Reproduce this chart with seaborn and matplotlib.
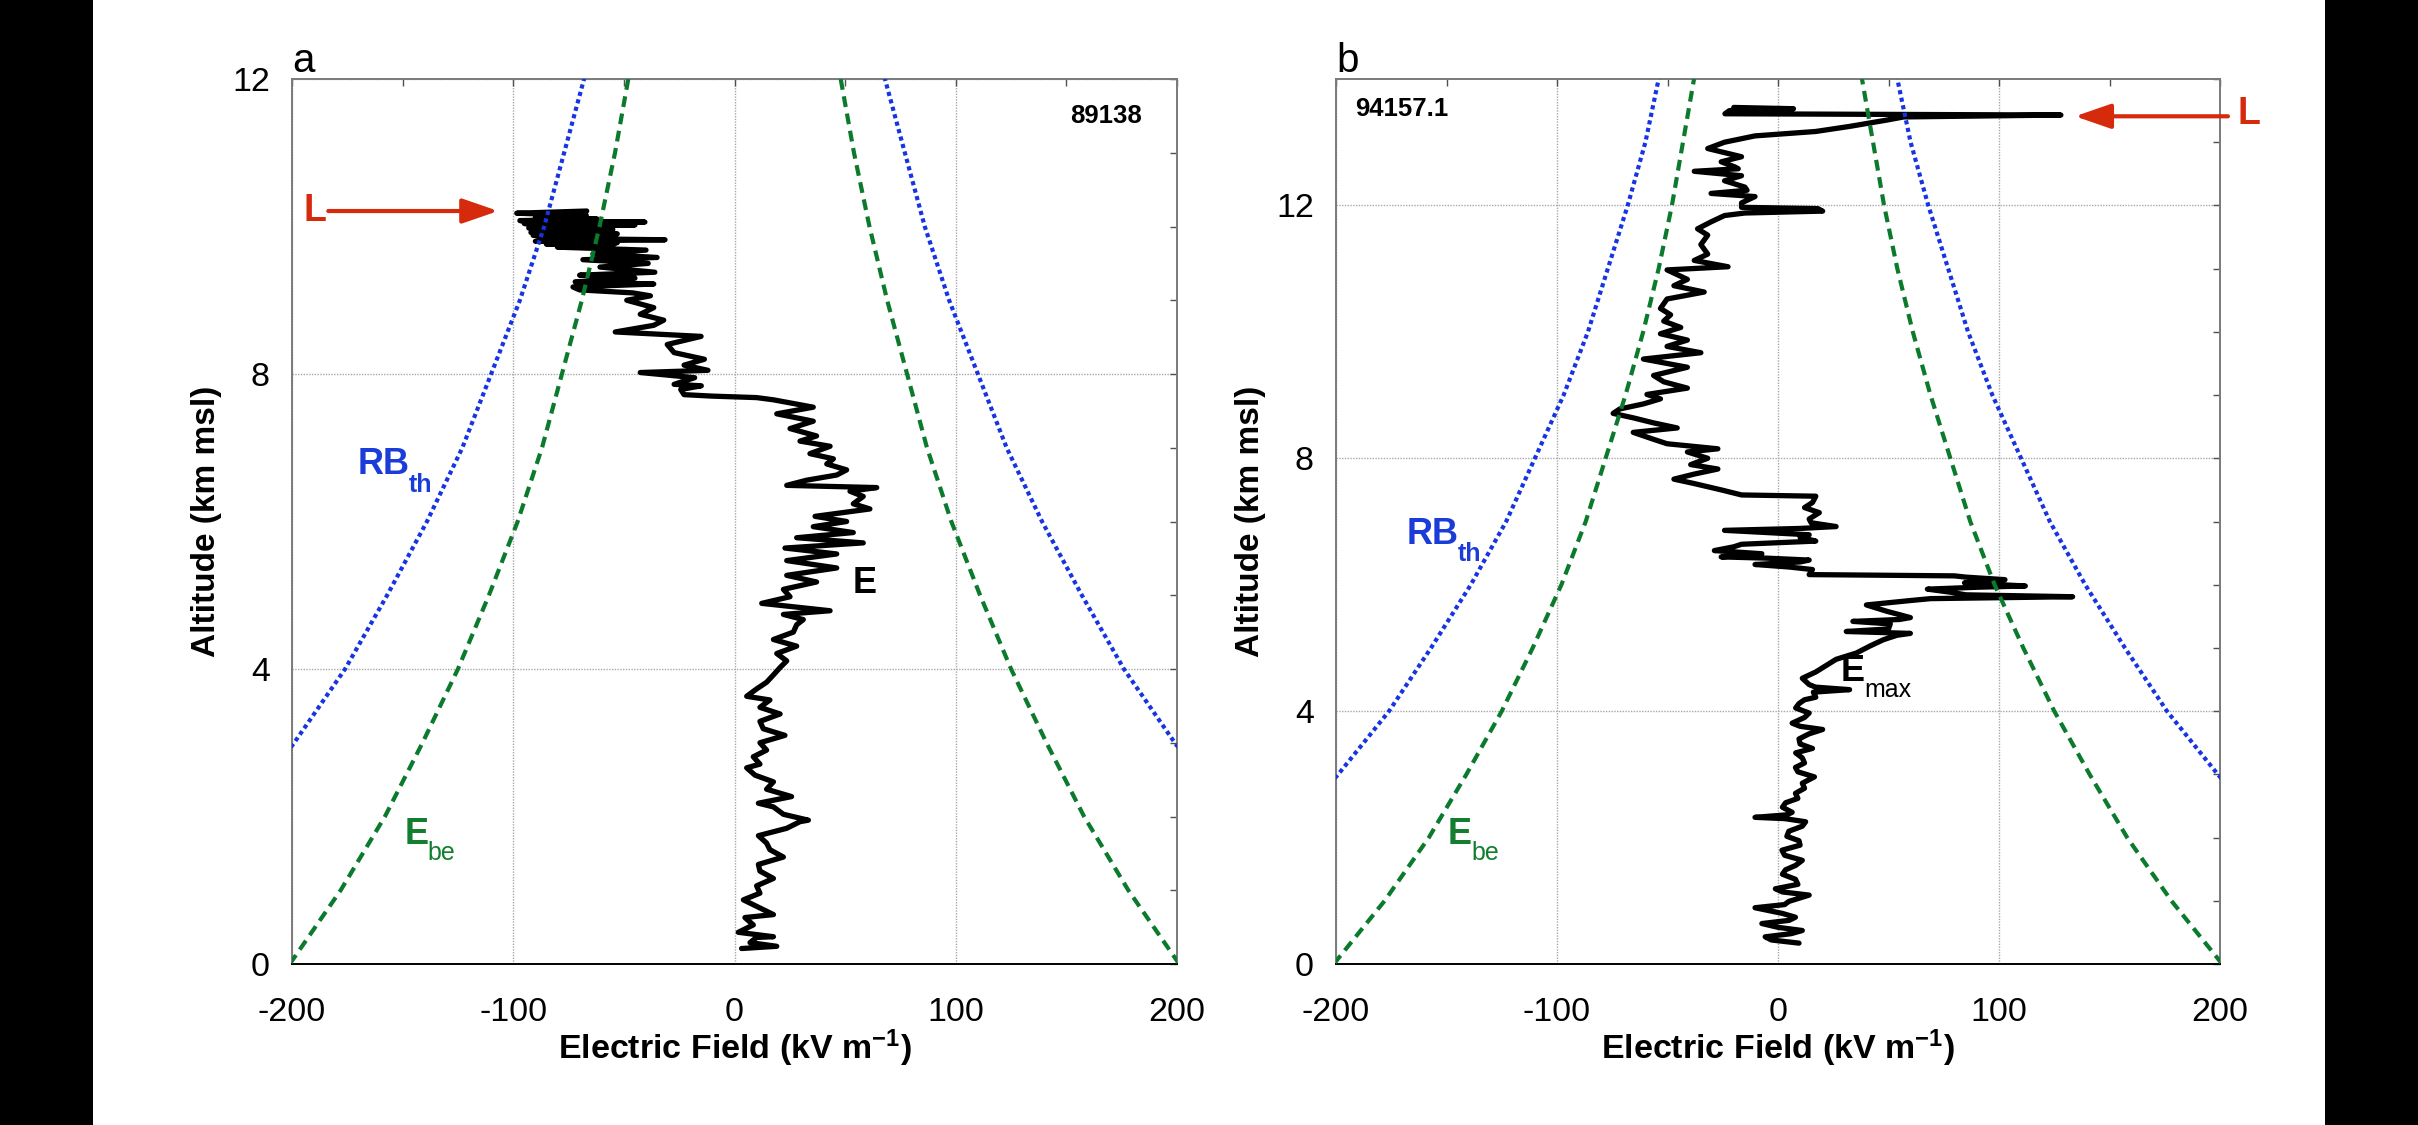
import matplotlib
matplotlib.use("Agg")
import matplotlib.pyplot as plt
import seaborn as sns
import pandas as pd
from matplotlib.ticker import MultipleLocator, FixedLocator, FixedFormatter
from matplotlib.patches import Rectangle

# ---------------- data ----------------
curve_alt_km = [0, 1, 2, 3, 4, 5, 6, 7, 8, 9, 10, 11, 12, 13, 14]
rb_th_kvm = [284, 252, 224, 199, 176, 157, 139, 123, 110, 97, 86, 77, 68, 60, 54]
e_be_kvm = [201, 178, 158, 141, 125, 111, 98, 87, 78, 69, 61, 54, 48, 43, 38]

a_alt_km = [0.21, 0.24, 0.29, 0.36, 0.37, 0.43, 0.53, 0.63, 0.67, 0.77, 0.87, 0.96, 1.06, 1.16,
            1.26, 1.35, 1.45, 1.55, 1.64, 1.74, 1.84, 1.93, 1.95, 2.03, 2.13, 2.18, 2.27, 2.37,
            2.47, 2.56, 2.66, 2.71, 2.81, 2.90, 3.00, 3.10, 3.19, 3.29, 3.39, 3.48, 3.58, 3.63,
            3.73, 3.82, 3.92, 4.02, 4.11, 4.21, 4.31, 4.40, 4.50, 4.60, 4.67, 4.74, 4.79, 4.89,
            4.98, 5.08, 5.18, 5.27, 5.37, 5.47, 5.56, 5.64, 5.71, 5.78, 5.85, 5.93, 6.00, 6.07,
            6.17, 6.24, 6.34, 6.41, 6.46, 6.49, 6.56, 6.63, 6.70, 6.78, 6.85, 6.92, 7.02, 7.09,
            7.16, 7.26, 7.36, 7.46, 7.55, 7.65, 7.68, 7.70, 7.72, 7.79, 7.84, 7.86, 7.95, 8.02,
            8.05, 8.12, 8.20, 8.29, 8.40, 8.51, 8.57, 8.66, 8.73, 8.81, 8.90, 9.00, 9.06, 9.10,
            9.14, 9.18, 9.22, 9.25, 9.30, 9.34, 9.38, 9.45, 9.50, 9.55, 9.58, 9.63, 9.68, 9.72,
            9.74, 9.76, 9.78, 9.80, 9.82, 9.84, 9.86, 9.88, 9.90, 9.92, 9.93, 9.95, 9.96, 9.98,
            9.99, 10.01, 10.02, 10.04, 10.06, 10.08, 10.10, 10.12, 10.15, 10.18, 10.21]
a_field_kvm = [3.2, 19.1, 7.0, 10.0, 17.6, 1.7, 8.5, 4.7, 17.6, 10.8, 4.0, 11.5, 10.0, 17.6,
               11.5, 10.8, 22.1, 16.0, 14.5, 10.8, 23.6, 29.6, 33.4, 22.1, 17.6, 10.8, 25.8, 14.5,
               17.6, 9.3, 5.5, 11.5, 8.5, 14.5, 11.5, 22.8, 13.0, 11.5, 20.6, 11.5, 16.0, 5.5,
               10.0, 14.5, 17.6, 20.6, 23.6, 19.1, 28.1, 17.6, 26.6, 28.1, 31.1, 22.1, 43.2, 12.3,
               25.1, 22.1, 37.1, 23.6, 46.2, 23.6, 46.2, 22.8, 58.2, 28.1, 53.7, 35.6, 50.7, 36.4,
               61.2, 53.7, 58.2, 52.2, 64.3, 23.6, 32.6, 46.2, 50.7, 41.7, 44.7, 34.1, 43.2, 29.6,
               37.1, 25.1, 35.6, 19.1, 35.6, 17.6, 10.0, -10.0, -22.8, -24.3, -15.0, -27.3, -18.0, -42.6,
               -12.0, -22.8, -13.6, -27.3, -30.4, -15.1, -53.9, -36.5, -32.0, -42.6, -36.5, -48.7, -38.0, -46.0,
               -70.0, -73.0, -36.5, -72.0, -45.0, -70.0, -36.0, -60.8, -39.0, -68.5, -35.0, -64.0, -40.0, -80.0,
               -55.0, -85.0, -53.0, -90.0, -31.4, -88.0, -60.0, -91.0, -53.0, -92.0, -58.0, -89.0, -55.0, -93.0,
               -60.0, -88.0, -45.0, -95.0, -40.5, -97.0, -62.0, -90.0, -67.0, -98.4, -66.8]

b_alt_km = [0.33, 0.38, 0.43, 0.48, 0.53, 0.58, 0.64, 0.69, 0.74, 0.80, 0.89, 0.94, 0.99, 1.09,
            1.14, 1.19, 1.26, 1.34, 1.42, 1.49, 1.56, 1.64, 1.72, 1.80, 1.88, 1.95, 2.02, 2.10,
            2.18, 2.25, 2.30, 2.32, 2.36, 2.40, 2.48, 2.55, 2.62, 2.70, 2.78, 2.86, 2.96, 3.04,
            3.11, 3.18, 3.26, 3.34, 3.41, 3.48, 3.56, 3.64, 3.71, 3.76, 3.81, 3.90, 3.97, 4.05,
            4.12, 4.18, 4.22, 4.30, 4.34, 4.38, 4.42, 4.52, 4.62, 4.72, 4.82, 4.92, 5.03, 5.13,
            5.20, 5.23, 5.26, 5.30, 5.38, 5.42, 5.45, 5.48, 5.58, 5.68, 5.75, 5.78, 5.81, 5.84,
            5.88, 5.93, 5.96, 5.98, 6.03, 6.08, 6.12, 6.14, 6.16, 6.24, 6.28, 6.32, 6.36, 6.39,
            6.42, 6.44, 6.49, 6.54, 6.60, 6.64, 6.69, 6.75, 6.79, 6.86, 6.89, 6.92, 6.98, 7.04,
            7.14, 7.22, 7.30, 7.40, 7.42, 7.50, 7.60, 7.67, 7.75, 7.83, 7.90, 8.00, 8.10, 8.15,
            8.23, 8.30, 8.41, 8.48, 8.56, 8.64, 8.71, 8.78, 8.86, 8.94, 9.01, 9.11, 9.21, 9.31,
            9.44, 9.57, 9.67, 9.77, 9.87, 9.97, 10.07, 10.17, 10.27, 10.37, 10.52, 10.63, 10.73,
            10.83, 10.98, 11.03, 11.13, 11.23, 11.38, 11.53, 11.63, 11.74, 11.84, 11.88, 11.91,
            11.95, 11.97, 12.04, 12.14, 12.19, 12.24, 12.29, 12.39, 12.47, 12.54, 12.58, 12.61,
            12.69, 12.77, 12.90, 13.00, 13.10, 13.17, 13.25, 13.35, 13.40, 13.43, 13.45, 13.50,
            13.53, 13.55]
b_field_kvm = [9.5, -3.0, -5.8, 6.0, 11.0, 0.0, -7.3, 5.0, 7.9, 2.0, -10.4, 3.0, 4.9, 14.1,
               2.0, -1.2, 9.0, 7.9, 2.0, 3.4, 8.0, 11.0, 3.0, 1.8, 10.0, 9.5, 4.0, 4.9,
               11.0, 12.5, 3.0, -10.4, 4.0, 6.4, 2.0, 3.4, 9.0, 7.9, 12.0, 11.0, 16.5, 9.0,
               7.9, 12.0, 11.0, 8.0, 15.6, 10.0, 9.5, 14.0, 20.2, 10.0, 6.4, 12.0, 14.1, 8.0,
               9.5, 12.0, 17.1, 16.0, 32.4, 17.0, 14.1, 11.0, 17.1, 21.7, 26.3, 35.5, 41.6, 47.7,
               53.8, 59.9, 30.9, 50.0, 50.8, 33.9, 55.0, 59.9, 49.2, 40.0, 60.0, 69.1, 133.3, 85.0,
               78.3, 67.6, 90.0, 111.9, 84.4, 102.7, 85.0, 79.8, 14.1, 15.6, 5.0, -10.4, 10.0, 14.1,
               -5.0, -25.7, -7.3, -28.8, -20.0, -16.5, 17.1, 10.0, 14.1, -24.2, 10.0, 26.3, 15.0, 14.1,
               18.7, 12.0, 15.6, 17.1, -16.5, -25.7, -37.9, -47.1, -37.9, -27.2, -39.5, -31.8, -41.0, -27.2,
               -50.2, -56.3, -65.5, -45.6, -56.3, -65.5, -74.6, -71.6, -60.9, -53.2, -59.3, -41.0, -51.7, -56.3,
               -41.0, -60.9, -34.9, -50.2, -41.0, -53.2, -44.0, -51.7, -48.6, -53.2, -50.2, -33.4, -47.1,
               -41.0, -50.2, -22.6, -37.9, -31.8, -34.9, -31.8, -36.4, -30.3, -24.2, -15.0, 20.2,
               18.0, -16.5, -16.5, -10.4, -30.3, -14.0, -15.0, -24.2, -16.5, -37.9, -18.0, -19.6,
               -25.7, -16.5, -31.8, -24.2, -10.4, 17.1, 32.4, 49.2, 56.9, 128.0, -24.0, -22.0,
               7.0, -20.0]

x_ticks = [-200, -100, 0, 100, 200]
x_tick_labels = ["-200", "-100", "0", "100", "200"]
y_ticks = [0, 4, 8, 12]
y_tick_labels = ["0", "4", "8", "12"]

panel_letters = ["a", "b"]
flight_ids = ["89138", "94157.1"]
y_max = [12, 14]

# ---------------- style ----------------
sns.set_theme(style="white")
plt.rcParams["font.family"] = ["Liberation Sans", "DejaVu Sans"]
plt.rcParams["mathtext.default"] = "regular"
plt.rcParams["axes.unicode_minus"] = False

BLUE = "#1634E4"
GREEN = "#0B7A2C"
RED = "#D62A0C"
BLUE_TXT = "#1A3CD8"
GREEN_TXT = "#137E30"

W, H = 2418, 1125
fig = plt.figure(figsize=(W / 100, H / 100), dpi=100)
fig.patch.set_facecolor("white")
fig.add_artist(Rectangle((0, 0), 93 / W, 1, transform=fig.transFigure,
                         facecolor="black", edgecolor="none", zorder=0))
fig.add_artist(Rectangle((2325 / W, 0), 1, 1, transform=fig.transFigure,
                         facecolor="black", edgecolor="none", zorder=0))


def rect(left, top, w, h):
    return [left / W, 1 - (top + h) / H, w / W, h / H]


ax_a = fig.add_axes(rect(292, 79, 885, 885))
ax_b = fig.add_axes(rect(1336, 79, 884, 885))

curves = pd.DataFrame({"alt": curve_alt_km, "rb": rb_th_kvm, "be": e_be_kvm})
prof_a = pd.DataFrame({"alt": a_alt_km, "E": a_field_kvm})
prof_b = pd.DataFrame({"alt": b_alt_km, "E": b_field_kvm})


def draw_panel(ax, prof, ymax, letter):
    ax.set_facecolor("white")
    sns.lineplot(data=prof, x="E", y="alt", sort=False, estimator=None, ax=ax,
                 color="black", lw=3.8, zorder=3)
    for sign in (-1, 1):
        sns.lineplot(x=[sign * v for v in curves["rb"]], y=curves["alt"], sort=False,
                     estimator=None, ax=ax, color=BLUE, lw=3.0,
                     linestyle=(0, (1.0, 0.85)), zorder=4)
        sns.lineplot(x=[sign * v for v in curves["be"]], y=curves["alt"], sort=False,
                     estimator=None, ax=ax, color=GREEN, lw=3.0,
                     linestyle=(0, (2.6, 1.6)), zorder=4)
    ax.set_xlim(-200, 200)
    ax.set_ylim(0, ymax)
    ax.xaxis.set_major_locator(FixedLocator(x_ticks))
    ax.xaxis.set_major_formatter(FixedFormatter(x_tick_labels))
    ax.yaxis.set_major_locator(FixedLocator(y_ticks))
    ax.yaxis.set_major_formatter(FixedFormatter(y_tick_labels))
    ax.xaxis.set_minor_locator(MultipleLocator(50))
    ax.yaxis.set_minor_locator(MultipleLocator(1))
    ax.grid(True, which="major", color="#A8A8A8", linestyle=(0, (1, 1)), lw=1.0, zorder=1)
    ax.tick_params(which="both", direction="in", top=True, right=True, length=5,
                   width=1.0, color="#505050")
    ax.tick_params(axis="x", which="major", labelsize=24.5, pad=24, labelcolor="black")
    ax.tick_params(axis="y", which="major", labelsize=24.5, pad=16, labelcolor="black")
    for side in ("top", "left", "right"):
        ax.spines[side].set_color("#7A7A7A")
        ax.spines[side].set_linewidth(1.4)
    ax.spines["bottom"].set_color("black")
    ax.spines["bottom"].set_linewidth(1.4)
    ax.set_xlabel("")
    ax.set_ylabel("")
    ax.text(0.5, -0.1073, "Electric Field (kV m$^{-1}$)", transform=ax.transAxes,
            ha="center", va="baseline", fontsize=24.5, fontweight="bold", color="black")
    ax.text(-0.087, 0.5, "Altitude (km msl)", transform=ax.transAxes, rotation=90,
            rotation_mode="anchor", ha="center", va="baseline", fontsize=24,
            fontweight="bold", color="black")
    ax.text(0.0, 1.008, letter, transform=ax.transAxes, ha="left", va="baseline",
            fontsize=29, color="black")


draw_panel(ax_a, prof_a, y_max[0], panel_letters[0])
draw_panel(ax_b, prof_b, y_max[1], panel_letters[1])

# panel a annotations
ax_a.text(168, 11.5, flight_ids[0], ha="center", va="center", fontsize=18.5,
          fontweight="bold", color="black")
ax_a.annotate("", xy=(-106.8, 10.21), xytext=(-183.6, 10.21),
              arrowprops=dict(arrowstyle="-|>,head_length=1.1,head_width=0.38",
                              color=RED, lw=3.0, shrinkA=0, shrinkB=0,
                              mutation_scale=20))
ax_a.text(-195.0, 10.21, "L", ha="left", va="center", fontsize=27,
          fontweight="bold", color=RED)
ax_a.text(-170.2, 6.64, "RB", ha="left", va="baseline", fontsize=26,
          fontweight="bold", color=BLUE_TXT)
ax_a.text(-147.1, 6.40, "th", ha="left", va="baseline", fontsize=18,
          fontweight="bold", color=BLUE_TXT)
ax_a.text(-148.9, 1.63, "E", ha="left", va="baseline", fontsize=26,
          fontweight="bold", color=GREEN_TXT)
ax_a.text(-139.0, 1.41, "be", ha="left", va="baseline", fontsize=18,
          color=GREEN_TXT)
ax_a.text(53.4, 5.03, "E", ha="left", va="baseline", fontsize=26,
          fontweight="bold", color="black")

# panel b annotations
ax_b.text(-191.4, 13.53, flight_ids[1], ha="left", va="center", fontsize=18.5,
          fontweight="bold", color="black")
ax_b.annotate("", xy=(134.4, 13.41), xytext=(203.6, 13.41),
              arrowprops=dict(arrowstyle="-|>,head_length=1.1,head_width=0.38",
                              color=RED, lw=3.0, shrinkA=0, shrinkB=0,
                              mutation_scale=20), annotation_clip=False)
ax_b.text(207.7, 13.45, "L", ha="left", va="center", fontsize=27,
          fontweight="bold", color=RED, clip_on=False)
ax_b.text(-167.9, 6.65, "RB", ha="left", va="baseline", fontsize=26,
          fontweight="bold", color=BLUE_TXT)
ax_b.text(-144.8, 6.37, "th", ha="left", va="baseline", fontsize=18,
          fontweight="bold", color=BLUE_TXT)
ax_b.text(-149.3, 1.90, "E", ha="left", va="baseline", fontsize=26,
          fontweight="bold", color=GREEN_TXT)
ax_b.text(-138.9, 1.65, "be", ha="left", va="baseline", fontsize=18,
          color=GREEN_TXT)
ax_b.text(28.5, 4.47, "E", ha="left", va="baseline", fontsize=26,
          fontweight="bold", color="black")
ax_b.text(38.9, 4.22, "max", ha="left", va="baseline", fontsize=18,
          color="black")

fig.savefig("out.png", dpi=100, facecolor=fig.get_facecolor())
